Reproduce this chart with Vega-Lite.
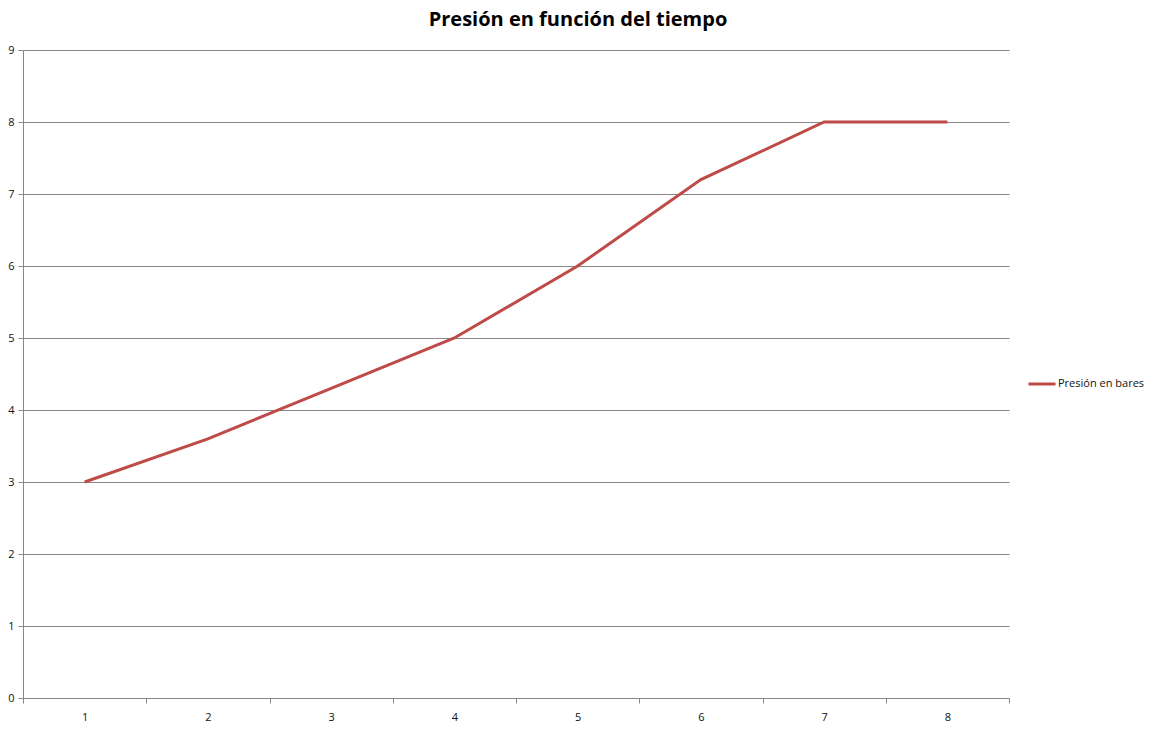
{
  "$schema": "https://vega.github.io/schema/vega-lite/v6.json",
  "width": 986,
  "height": 648,
  "autosize": "none",
  "padding": {"left": 23, "top": 50, "right": 148, "bottom": 31},
  "background": "white",
  "title": {
    "text": "Presión en función del tiempo",
    "font": "Open Sans",
    "fontSize": 20,
    "fontWeight": "bold",
    "color": "#000000",
    "anchor": "middle",
    "dx": 62,
    "offset": 14
  },
  "data": {
    "values": [
      {"tiempo": 1, "presion": 3, "serie": "Presión en bares"},
      {"tiempo": 2, "presion": 3.6, "serie": "Presión en bares"},
      {"tiempo": 3, "presion": 4.3, "serie": "Presión en bares"},
      {"tiempo": 4, "presion": 5, "serie": "Presión en bares"},
      {"tiempo": 5, "presion": 6, "serie": "Presión en bares"},
      {"tiempo": 6, "presion": 7.2, "serie": "Presión en bares"},
      {"tiempo": 7, "presion": 8, "serie": "Presión en bares"},
      {"tiempo": 8, "presion": 8, "serie": "Presión en bares"}
    ]
  },
  "config": {
    "view": {"stroke": null},
    "axis": {
      "labelFont": "Open Sans",
      "labelFontSize": 11,
      "labelColor": "#111111",
      "domainColor": "#868686",
      "tickColor": "#868686",
      "gridColor": "#868686",
      "tickSize": 5,
      "labelOverlap": false,
      "labelBound": false,
      "title": null
    }
  },
  "mark": {"type": "line", "strokeWidth": 3, "strokeCap": "butt"},
  "encoding": {
    "x": {
      "field": "tiempo",
      "type": "ordinal",
      "scale": {"type": "band", "paddingInner": 0, "paddingOuter": 0},
      "axis": {"labelAngle": 0, "tickBand": "extent", "grid": false, "labelPadding": 8}
    },
    "y": {
      "field": "presion",
      "type": "quantitative",
      "scale": {"domain": [0, 9], "nice": false},
      "axis": {"values": [0, 1, 2, 3, 4, 5, 6, 7, 8, 9], "grid": true, "labelPadding": 4, "labelFlush": false}
    },
    "color": {
      "field": "serie",
      "type": "nominal",
      "scale": {"range": ["#BE4B48"]},
      "legend": {
        "title": null,
        "orient": "none",
        "legendX": 1004,
        "legendY": 319,
        "symbolType": "stroke",
        "symbolSize": 729,
        "symbolStrokeWidth": 3,
        "labelFont": "Open Sans",
        "labelFontSize": 11,
        "labelColor": "#111111",
        "labelOffset": 1
      }
    }
  }
}
